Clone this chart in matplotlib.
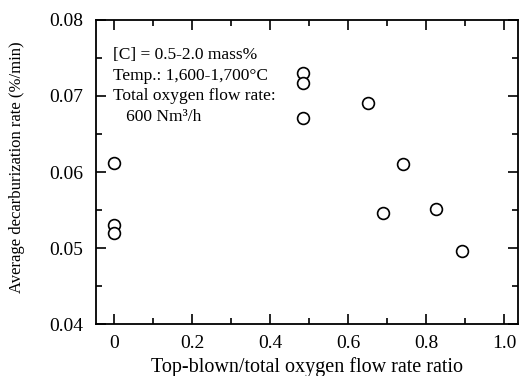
import matplotlib
matplotlib.use("Agg")
import matplotlib.pyplot as plt
from matplotlib.ticker import MultipleLocator

# Data
ratio = [0.0, 0.0, 0.0, 0.485, 0.485, 0.485, 0.651, 0.690, 0.741, 0.826, 0.892]
rate = [0.0612, 0.0530, 0.0520, 0.0730, 0.0717, 0.0671, 0.0691, 0.0546, 0.0610, 0.0551, 0.0496]

x_ticks = [0, 0.2, 0.4, 0.6, 0.8, 1.0]
x_tick_labels = ["0", "0.2", "0.4", "0.6", "0.8", "1.0"]
y_ticks = [0.04, 0.05, 0.06, 0.07, 0.08]
y_tick_labels = ["0.04", "0.05", "0.06", "0.07", "0.08"]

note_lines = [
    "[C] = 0.5-2.0 mass%",
    "Temp.: 1,600-1,700\u00b0C",
    "Total oxygen flow rate:",
    "   600 Nm\u00b3/h",
]

plt.rcParams["font.family"] = ["Liberation Serif", "DejaVu Serif"]

fig = plt.figure(figsize=(5.19, 3.76), dpi=100)
ax = fig.add_axes([0.185, 0.138, 0.813, 0.809])

ax.plot(ratio, rate, linestyle="none", marker="o", markersize=8.5,
        markerfacecolor="white", markeredgecolor="black", markeredgewidth=1.2)

ax.set_xlim(-0.046, 1.036)
ax.set_ylim(0.04, 0.08)
ax.set_xticks(x_ticks)
ax.set_xticklabels(x_tick_labels)
ax.set_yticks(y_ticks)
ax.set_yticklabels(y_tick_labels)
ax.xaxis.set_minor_locator(MultipleLocator(0.1))
ax.yaxis.set_minor_locator(MultipleLocator(0.005))
ax.tick_params(which="both", direction="in", top=True, right=True,
               labelsize=14, width=1.2)
ax.tick_params(which="major", length=7)
ax.tick_params(which="minor", length=4)
ax.tick_params(axis="x", pad=8)
ax.tick_params(axis="y", pad=9)
for s in ax.spines.values():
    s.set_linewidth(1.3)

ax.set_xlabel("Top-blown/total oxygen flow rate ratio", fontsize=14.5)
ax.xaxis.set_label_coords(0.5, -0.108)
ax.set_ylabel("Average decarburization rate (%/min)", fontsize=12)
ax.yaxis.set_label_coords(-0.168, 0.516)

ax.text(0.04, 0.91, "\n".join(note_lines), transform=ax.transAxes,
        fontsize=12.5, va="top", ha="left", linespacing=1.38)

fig.savefig("out.png", dpi=100)
